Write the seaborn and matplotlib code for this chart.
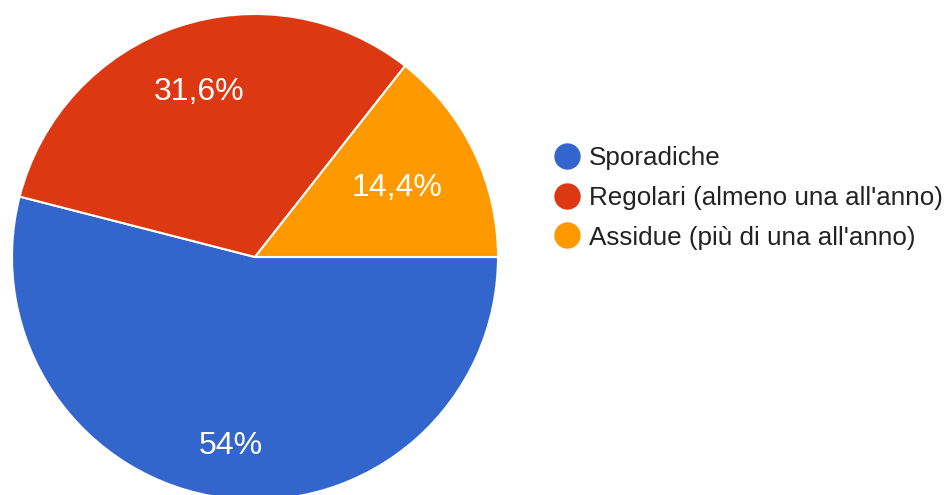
import numpy as np
import matplotlib
matplotlib.use("Agg")
import matplotlib.pyplot as plt
from matplotlib.lines import Line2D
import seaborn as sns

categories = ["Sporadiche", "Regolari (almeno una all'anno)", "Assidue (più di una all'anno)"]
shares = [54.0, 31.6, 14.4]
pct_labels = ["54%", "31,6%", "14,4%"]
colors = ["#3366CC", "#DC3912", "#FF9900"]

sns.set_theme(style="white")
plt.rcParams["font.family"] = ["Liberation Sans", "DejaVu Sans"]

W, H = 944, 495
fig = plt.figure(figsize=(W / 100, H / 100), dpi=100)
fig.patch.set_facecolor("white")

# pie area in pixels: centre (255, 257), radius 243
cx, cy, r = 255, 257, 243
ax = fig.add_axes([(cx - r) / W, (H - cy - r) / H, 2 * r / W, 2 * r / H])
wedges, _ = ax.pie(
    shares,
    colors=colors,
    startangle=0,
    counterclock=False,
    radius=1,
    wedgeprops=dict(edgecolor="white", linewidth=1.5),
)
ax.set_xlim(-1, 1)
ax.set_ylim(-1, 1)
ax.set_aspect("equal")
ax.axis("off")

# percentage labels placed along each wedge's bisector
label_dist = [0.785, 0.715, 0.65]
for w, txt, d in zip(wedges, pct_labels, label_dist):
    mid = np.deg2rad((w.theta1 + w.theta2) / 2)
    ax.text(d * np.cos(mid), d * np.sin(mid), txt, ha="center", va="center",
            color="white", fontsize=23)

handles = [Line2D([0], [0], marker="o", linestyle="", markersize=18,
                  markerfacecolor=c, markeredgecolor=c) for c in colors]
fig.legend(handles, categories, loc="upper left",
           bbox_to_anchor=(544 / W, 1 - 136 / H), frameon=False,
           fontsize=18.7, handlelength=1.0, handletextpad=0.33,
           labelspacing=0.6, borderpad=0.4, borderaxespad=0,
           labelcolor="#222222")

fig.savefig("out.png", dpi=100, facecolor="white")
